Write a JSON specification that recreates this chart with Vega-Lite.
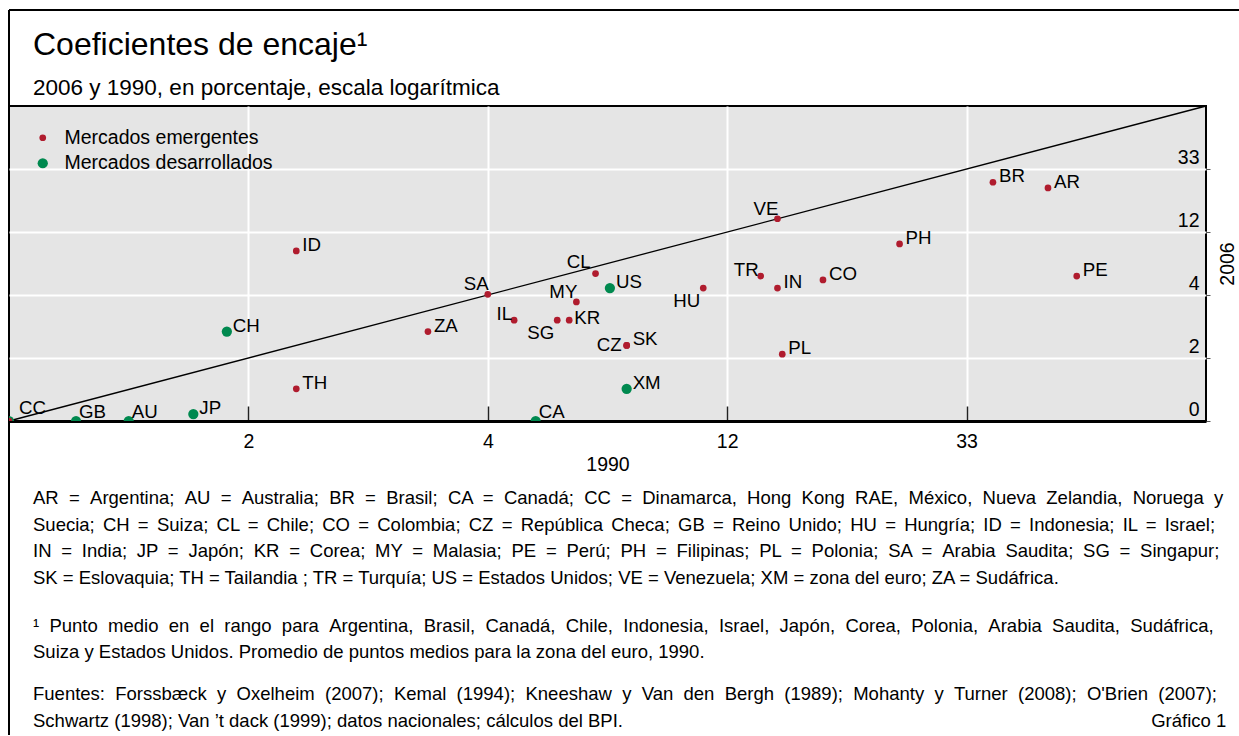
{
  "$schema": "https://vega.github.io/schema/vega-lite/v6.json",
  "background": "white",
  "padding": {"left": 5, "top": 9, "right": 0, "bottom": 0},
  "bounds": "flush",
  "spacing": 0,
  "config": {
    "font": "Liberation Sans",
    "view": {"stroke": null},
    "title": {"fontWeight": "normal", "color": "black", "subtitleColor": "black", "font": "Liberation Sans", "subtitleFont": "Liberation Sans", "limit": 2000},
    "axis": {"labelFont": "Liberation Sans", "titleFont": "Liberation Sans", "titleFontWeight": "normal", "labelColor": "black", "titleColor": "black"},
    "legend": {"labelFont": "Liberation Sans", "labelColor": "black"}
  },
  "datasets": {
    "paises": [
      {"code": "CC", "grupo": "Mercados desarrollados", "log1990": -0.5, "log2006": -0.5},
      {"code": "GB", "grupo": "Mercados desarrollados", "log1990": -0.22, "log2006": -0.5},
      {"code": "AU", "grupo": "Mercados desarrollados", "log1990": 0.0, "log2006": -0.5},
      {"code": "JP", "grupo": "Mercados desarrollados", "log1990": 0.27, "log2006": -0.39},
      {"code": "CH", "grupo": "Mercados desarrollados", "log1990": 0.41, "log2006": 0.92},
      {"code": "CA", "grupo": "Mercados desarrollados", "log1990": 1.70, "log2006": -0.5},
      {"code": "US", "grupo": "Mercados desarrollados", "log1990": 2.01, "log2006": 1.61},
      {"code": "XM", "grupo": "Mercados desarrollados", "log1990": 2.08, "log2006": 0.01},
      {"code": "CC", "grupo": "Mercados emergentes", "log1990": -0.5, "log2006": -0.5},
      {"code": "ID", "grupo": "Mercados emergentes", "log1990": 0.70, "log2006": 2.20},
      {"code": "TH", "grupo": "Mercados emergentes", "log1990": 0.70, "log2006": 0.01},
      {"code": "ZA", "grupo": "Mercados emergentes", "log1990": 1.25, "log2006": 0.92},
      {"code": "SA", "grupo": "Mercados emergentes", "log1990": 1.50, "log2006": 1.51},
      {"code": "IL", "grupo": "Mercados emergentes", "log1990": 1.61, "log2006": 1.10},
      {"code": "SG", "grupo": "Mercados emergentes", "log1990": 1.79, "log2006": 1.10},
      {"code": "KR", "grupo": "Mercados emergentes", "log1990": 1.84, "log2006": 1.10},
      {"code": "MY", "grupo": "Mercados emergentes", "log1990": 1.87, "log2006": 1.39},
      {"code": "CL", "grupo": "Mercados emergentes", "log1990": 1.95, "log2006": 1.84},
      {"code": "CZ", "grupo": "Mercados emergentes", "log1990": 2.08, "log2006": 0.70},
      {"code": "SK", "grupo": "Mercados emergentes", "log1990": 2.08, "log2006": 0.70},
      {"code": "HU", "grupo": "Mercados emergentes", "log1990": 2.40, "log2006": 1.61},
      {"code": "TR", "grupo": "Mercados emergentes", "log1990": 2.64, "log2006": 1.80},
      {"code": "IN", "grupo": "Mercados emergentes", "log1990": 2.71, "log2006": 1.61},
      {"code": "VE", "grupo": "Mercados emergentes", "log1990": 2.71, "log2006": 2.71},
      {"code": "PL", "grupo": "Mercados emergentes", "log1990": 2.73, "log2006": 0.56},
      {"code": "CO", "grupo": "Mercados emergentes", "log1990": 2.90, "log2006": 1.74},
      {"code": "PH", "grupo": "Mercados emergentes", "log1990": 3.22, "log2006": 2.31},
      {"code": "BR", "grupo": "Mercados emergentes", "log1990": 3.61, "log2006": 3.29},
      {"code": "AR", "grupo": "Mercados emergentes", "log1990": 3.84, "log2006": 3.20},
      {"code": "PE", "grupo": "Mercados emergentes", "log1990": 3.96, "log2006": 1.80}
    ],
    "diagonal": [
      {"log1990": -0.5, "log2006": -0.5},
      {"log1990": 4.5, "log2006": 4.5}
    ]
  },
  "vconcat": [
    {
      "width": 1230,
      "height": 96,
      "data": {"values": [{}]},
      "mark": {"type": "text"},
      "view": {"stroke": "black", "strokeWidth": 2, "strokeDash": [1230, 1326, 96, 0]},
      "title": {
        "text": "Coeficientes de encaje¹",
        "subtitle": "2006 y 1990, en porcentaje, escala logarítmica",
        "orient": "bottom",
        "anchor": "start",
        "frame": "group",
        "offset": -76,
        "dx": 24,
        "fontSize": 32,
        "subtitleFontSize": 22.5,
        "subtitlePadding": 15
      }
    },
    {
      "width": 1197,
      "height": 315,
      "view": {"fill": "#e5e5e5", "stroke": "black", "strokeWidth": 2},
      "title": {
        "text": [
          "AR \u00a0= \u00a0Argentina; \u00a0AU \u00a0= \u00a0Australia; \u00a0BR \u00a0= \u00a0Brasil; \u00a0CA \u00a0= \u00a0Canadá; \u00a0CC \u00a0= \u00a0Dinamarca, \u00a0Hong \u00a0Kong \u00a0RAE, \u00a0México, \u00a0Nueva \u00a0Zelandia, \u00a0Noruega \u00a0y",
          "Suecia; \u2006CH \u2006= \u2006Suiza; \u2006CL \u2006= \u2006Chile; \u2006CO \u2006= \u2006Colombia; \u2006CZ \u2006= \u2006República \u2006Checa; \u2006GB \u2006= \u2006Reino \u2006Unido; \u2006HU \u2006= \u2006Hungría; \u2006ID \u2006= \u2006Indonesia; \u2006IL \u2006= \u2006Israel;",
          "IN \u2005= \u2005India; \u2005JP \u2005= \u2005Japón; \u2005KR \u2005= \u2005Corea; \u2005MY \u2005= \u2005Malasia; \u2005PE \u2005= \u2005Perú; \u2005PH \u2005= \u2005Filipinas; \u2005PL \u2005= \u2005Polonia; \u2005SA \u2005= \u2005Arabia \u2005Saudita; \u2005SG \u2005= \u2005Singapur;",
          "SK = Eslovaquia; TH = Tailandia ; TR = Turquía; US = Estados Unidos; VE = Venezuela; XM = zona del euro; ZA = Sudáfrica."
        ],
        "subtitle": [
          "¹\u00a0 Punto \u00a0medio \u00a0en \u00a0el \u00a0rango \u00a0para \u00a0Argentina, \u00a0Brasil, \u00a0Canadá, \u00a0Chile, \u00a0Indonesia, \u00a0Israel, \u00a0Japón, \u00a0Corea, \u00a0Polonia, \u00a0Arabia \u00a0Saudita, \u00a0Sudáfrica,",
          "Suiza y Estados Unidos. Promedio de puntos medios para la zona del euro, 1990."
        ],
        "orient": "bottom",
        "anchor": "start",
        "frame": "group",
        "offset": 15,
        "dx": 24,
        "fontSize": 18.5,
        "lineHeight": 26.7,
        "subtitleFontSize": 18.5,
        "subtitleLineHeight": 26.7,
        "subtitlePadding": 29
      },
      "data": {"name": "paises"},
      "encoding": {
        "x": {
          "field": "log1990",
          "type": "quantitative",
          "title": "1990",
          "scale": {"domain": [-0.5, 4.5], "nice": false, "zero": false},
          "axis": {
            "values": [0.5, 1.5, 2.5, 3.5],
            "labelExpr": "datum.value == 0.5 ? '2' : datum.value == 1.5 ? '4' : datum.value == 2.5 ? '12' : '33'",
            "grid": true,
            "gridColor": "white",
            "gridWidth": 2,
            "gridOpacity": 1,
            "domain": true,
            "domainColor": "black",
            "domainWidth": 3,
            "ticks": true,
            "tickSize": -15,
            "tickColor": "#222222",
            "tickWidth": 1.5,
            "labelPadding": 26,
            "labelFontSize": 19.5,
            "labelFlush": false,
            "labelOverlap": false,
            "titleFontSize": 19.5,
            "titlePadding": 5
          }
        },
        "y": {
          "field": "log2006",
          "type": "quantitative",
          "title": "2006",
          "scale": {"domain": [-0.5, 4.5], "nice": false, "zero": false},
          "axis": {
            "orient": "right",
            "values": [-0.5, 0.5, 1.5, 2.5, 3.5],
            "labelExpr": "datum.value == -0.5 ? '0' : datum.value == 0.5 ? '2' : datum.value == 1.5 ? '4' : datum.value == 2.5 ? '12' : '33'",
            "grid": true,
            "gridColor": {"condition": {"test": "datum.value == -0.5", "value": "transparent"}, "value": "white"},
            "gridWidth": 2,
            "gridOpacity": 1,
            "domain": false,
            "ticks": true,
            "tickSize": 4,
            "tickColor": "#555555",
            "tickWidth": 1,
            "labelAlign": "right",
            "labelBaseline": "alphabetic",
            "labelOffset": -6,
            "labelPadding": -11,
            "labelFontSize": 19.5,
            "labelFlush": false,
            "labelOverlap": false,
            "titleFontSize": 19.5,
            "titleAngle": 270,
            "titlePadding": 27
          }
        }
      },
      "layer": [
        {
          "data": {"name": "diagonal"},
          "mark": {"type": "line", "color": "black", "strokeWidth": 1.3}
        },
        {
          "mark": {"type": "circle", "opacity": 1, "clip": true},
          "encoding": {
            "color": {
              "field": "grupo",
              "type": "nominal",
              "scale": {"domain": ["Mercados emergentes", "Mercados desarrollados"], "range": ["#b01c2e", "#00894f"]},
              "legend": {"title": null, "orient": "none", "legendX": 24, "legendY": 118, "labelFontSize": 19.5, "labelLimit": 500, "symbolType": "circle", "symbolStrokeWidth": 0, "rowPadding": 4.5, "labelOffset": 12, "padding": 0}
            },
            "size": {
              "field": "grupo",
              "type": "nominal",
              "scale": {"domain": ["Mercados emergentes", "Mercados desarrollados"], "range": [45, 105]},
              "legend": {"title": null, "orient": "none", "legendX": 24, "legendY": 118, "labelFontSize": 19.5, "labelLimit": 500, "symbolType": "circle", "symbolStrokeWidth": 0, "rowPadding": 4.5, "labelOffset": 12, "padding": 0}
            }
          }
        },
        {
          "transform": [{"filter": {"field": "code", "oneOf": ["JP", "CH", "ID", "TH", "ZA", "US", "SK", "XM", "IN", "PL", "CO", "PH", "BR", "AR", "PE"]}}],
          "mark": {"type": "text", "align": "left", "baseline": "middle", "dx": 6, "dy": -6, "fontSize": 18.7, "font": "Liberation Sans", "color": "black"},
          "encoding": {"text": {"field": "code"}}
        },
        {
          "transform": [{"filter": {"field": "code", "oneOf": ["KR"]}}],
          "mark": {"type": "text", "align": "left", "baseline": "middle", "dx": 5, "dy": -2, "fontSize": 18.7, "font": "Liberation Sans", "color": "black"},
          "encoding": {"text": {"field": "code"}}
        },
        {
          "transform": [{"filter": {"field": "code", "oneOf": ["GB", "AU", "CA"]}}],
          "mark": {"type": "text", "align": "left", "baseline": "middle", "dx": 3, "dy": -9, "fontSize": 18.7, "font": "Liberation Sans", "color": "black"},
          "encoding": {"text": {"field": "code"}}
        },
        {
          "transform": [{"filter": "datum.code == 'CC' && datum.grupo == 'Mercados desarrollados'"}],
          "mark": {"type": "text", "align": "left", "baseline": "middle", "dx": 10, "dy": -13, "fontSize": 18.7, "font": "Liberation Sans", "color": "black"},
          "encoding": {"text": {"field": "code"}}
        },
        {
          "transform": [{"filter": {"field": "code", "oneOf": ["SA", "MY", "VE"]}}],
          "mark": {"type": "text", "align": "right", "baseline": "middle", "dx": 1, "dy": -10, "fontSize": 18.7, "font": "Liberation Sans", "color": "black"},
          "encoding": {"text": {"field": "code"}}
        },
        {
          "transform": [{"filter": {"field": "code", "oneOf": ["CL"]}}],
          "mark": {"type": "text", "align": "right", "baseline": "middle", "dx": -5, "dy": -12, "fontSize": 18.7, "font": "Liberation Sans", "color": "black"},
          "encoding": {"text": {"field": "code"}}
        },
        {
          "transform": [{"filter": {"field": "code", "oneOf": ["IL", "TR"]}}],
          "mark": {"type": "text", "align": "right", "baseline": "middle", "dx": -2, "dy": -6, "fontSize": 18.7, "font": "Liberation Sans", "color": "black"},
          "encoding": {"text": {"field": "code"}}
        },
        {
          "transform": [{"filter": {"field": "code", "oneOf": ["SG", "HU"]}}],
          "mark": {"type": "text", "align": "right", "baseline": "middle", "dx": -3, "dy": 13, "fontSize": 18.7, "font": "Liberation Sans", "color": "black"},
          "encoding": {"text": {"field": "code"}}
        },
        {
          "transform": [{"filter": {"field": "code", "oneOf": ["CZ"]}}],
          "mark": {"type": "text", "align": "right", "baseline": "middle", "dx": -5, "dy": 0, "fontSize": 18.7, "font": "Liberation Sans", "color": "black"},
          "encoding": {"text": {"field": "code"}}
        }
      ]
    },
    {
      "width": 1230,
      "height": 314,
      "data": {"values": [{}]},
      "mark": {"type": "text"},
      "view": {"stroke": "black", "strokeWidth": 2, "strokeDash": [0, 2774, 314, 0]},
      "title": {
        "text": [
          "Fuentes: \u00a0Forssbæck \u00a0y \u00a0Oxelheim \u00a0(2007); \u00a0Kemal \u00a0(1994); \u00a0Kneeshaw \u00a0y \u00a0Van \u00a0den \u00a0Bergh \u00a0(1989); \u00a0Mohanty \u00a0y \u00a0Turner \u00a0(2008); \u00a0O'Brien \u00a0(2007);",
          "Schwartz (1998); Van ’t dack (1999); datos nacionales; cálculos del BPI.\u2003\u2003\u2003\u2003\u2003\u2003\u2003\u2003\u2003\u2003\u2003\u2003\u2003\u2003\u2003\u2003\u2003\u2003\u2003\u2003\u2003\u2003\u2003\u2003\u2003\u2003\u2003\u2003\u00a0\u00a0Gráfico 1"
        ],
        "orient": "bottom",
        "anchor": "start",
        "frame": "group",
        "offset": -50,
        "dx": 24,
        "fontSize": 18.5,
        "lineHeight": 26.7
      }
    }
  ]
}
